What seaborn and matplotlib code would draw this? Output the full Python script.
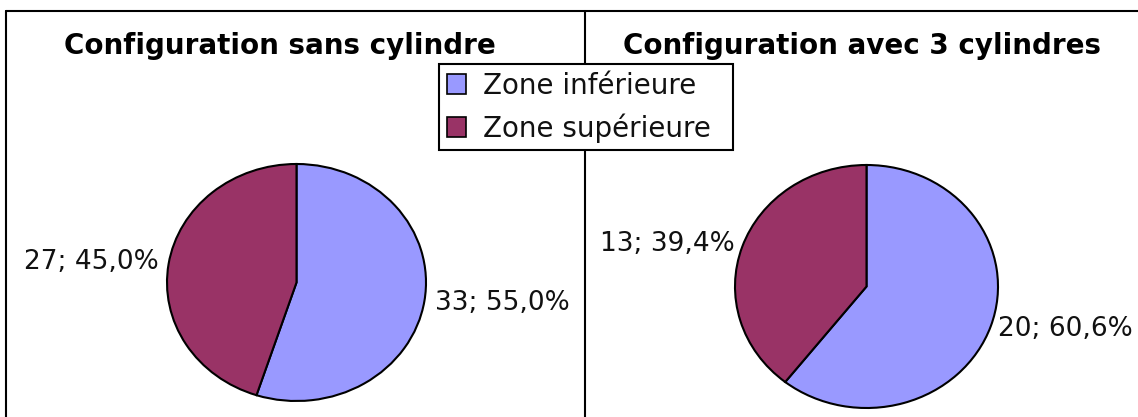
"""Two pie charts: distribution per zone, with and without cylinders."""

import matplotlib

matplotlib.use("Agg")

import matplotlib.pyplot as plt
import seaborn as sns
from matplotlib.lines import Line2D
from matplotlib.patches import Patch

# data
zones = ["Zone inférieure", "Zone supérieure"]
titles = ["Configuration sans cylindre", "Configuration avec 3 cylindres"]
counts_sans = [33, 27]
counts_avec = [20, 13]

colors = ["#9999FF", "#993366"]

sns.set_style("white")
plt.rcParams["font.family"] = ["DejaVu Sans"]
plt.rcParams["text.color"] = "black"

W, H = 1138, 417
fig = plt.figure(figsize=(W / 100, H / 100), dpi=100)


def px_box(x0, y0, x1, y1):
    """Convert a pixel box (top-left origin) to figure fractions."""
    return [x0 / W, 1 - y1 / H, (x1 - x0) / W, (y1 - y0) / H]


def fmt_labels(values):
    total = sum(values)
    return [f"{v}; {100 * v / total:.1f}%".replace(".", ",") for v in values]


def draw_pie(ax, values, dist):
    ax.pie(
        values,
        colors=colors,
        startangle=90,
        counterclock=False,
        labels=fmt_labels(values),
        labeldistance=dist,
        wedgeprops={"edgecolor": "black", "linewidth": 1.5, "clip_on": False},
        textprops={"fontsize": 19, "color": "#111111"},
    )
    ax.set_aspect("auto")
    ax.set_xlim(-1, 1)
    ax.set_ylim(-1, 1)
    ax.axis("off")


ax_left = fig.add_axes(px_box(167, 164, 426, 401))
draw_pie(ax_left, counts_sans, 1.08)

ax_right = fig.add_axes(px_box(735, 165, 998, 408))
draw_pie(ax_right, counts_avec, 1.06)

# titles
fig.text(280 / W, 1 - 54 / H, titles[0], ha="center", va="baseline",
         fontsize=20, fontweight="bold", color="black")
fig.text(862 / W, 1 - 54 / H, titles[1], ha="center", va="baseline",
         fontsize=20, fontweight="bold", color="black")

# frame lines
line_kw = {"transform": fig.transFigure, "color": "black", "linewidth": 1.5}
top_y = 1 - 11 / H
fig.add_artist(Line2D([5.5 / W, 1], [top_y, top_y], **line_kw))
fig.add_artist(Line2D([5.5 / W, 5.5 / W], [0, top_y], **line_kw))
fig.add_artist(Line2D([585 / W, 585 / W], [0, top_y], **line_kw))

# shared legend
handles = [Patch(facecolor=c, edgecolor="black", linewidth=1.2) for c in colors]
leg = fig.legend(
    handles,
    zones,
    loc="upper left",
    bbox_to_anchor=(439 / W, 1 - 64 / H, 294 / W, 0.0),
    bbox_transform=fig.transFigure,
    mode="expand",
    fontsize=20,
    frameon=True,
    fancybox=False,
    framealpha=1,
    edgecolor="black",
    handlelength=0.7,
    handleheight=0.7,
    handletextpad=0.6,
    borderpad=0.27,
    borderaxespad=0,
    labelspacing=0.5,
)
leg.get_frame().set_linewidth(1.5)
for txt in leg.get_texts():
    txt.set_color("#111111")

fig.savefig("out.png", dpi=100)
